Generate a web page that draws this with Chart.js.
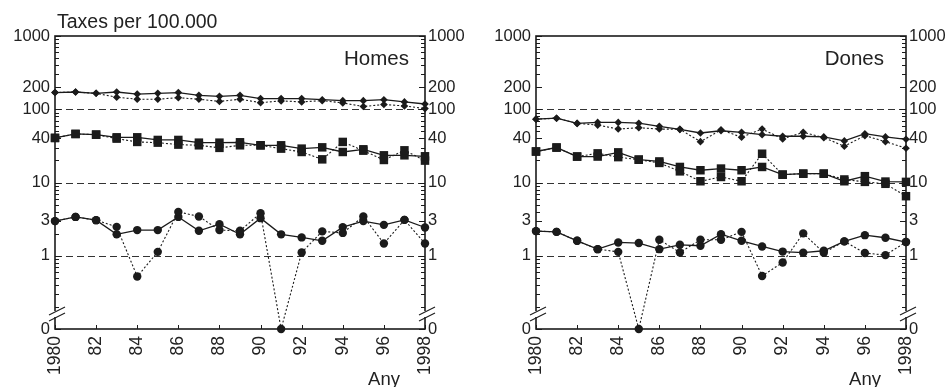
<!DOCTYPE html>
<html>
<head>
<meta charset="utf-8">
<script src="https://cdn.jsdelivr.net/npm/chart.js@4.4.1/dist/chart.umd.min.js"></script>
<style>
  body { margin: 0; background: #fff; }
  .wrap { display: flex; width: 950px; height: 387px; }
  .panel { position: relative; width: 475px; height: 387px; }
</style>
</head>
<body>
<div class="wrap">
  <div class="panel"><canvas id="homes"></canvas></div>
  <div class="panel"><canvas id="dones"></canvas></div>
</div>
<script>
"use strict";

// Data
const years = [1980, 1981, 1982, 1983, 1984, 1985, 1986, 1987, 1988, 1989,
               1990, 1991, 1992, 1993, 1994, 1995, 1996, 1997, 1998];
const xTicks = [1980, 1982, 1984, 1986, 1988, 1990, 1992, 1994, 1996, 1998];
const yTicks = [0, 1, 3, 10, 40, 100, 200, 1000];
const refLines = [1, 10, 100];

// Homes (solid = fit, dotted = observed)
const homesDiamondFit = [169, 172, 165, 172, 161, 165, 169, 155, 150, 155, 140, 140, 140, 135, 131, 131, 135, 126, 118];
const homesDiamondObs = [169, 172, 165, 146, 137, 137, 144, 137, 128, 137, 123, 130, 126, 131, 122, 109, 116, 111, 102];
const homesSquareFit = [40.6, 46, 45, 41.4, 41.4, 38.1, 38.1, 35, 35, 35.4, 32.2, 32.2, 29, 30.2, 26.1, 28.4, 23.5, 23.5, 22.8];
const homesSquareObs = [40.6, 46, 45, 39.7, 35.8, 35, 32.9, 32.2, 29.7, 32.2, 32.2, 29, 26.1, 20.7, 35.8, 27.2, 20.3, 27.5, 19.9];
const homesCircleFit = [2.97, 3.39, 3.06, 1.96, 2.24, 2.24, 3.39, 2.19, 2.7, 1.96, 3.26, 1.96, 1.78, 1.6, 2.46, 2.97, 2.64, 3.09, 2.43];
const homesCircleObs = [2.97, 3.39, 3.06, 2.48, 0.52, 1.13, 3.97, 3.44, 2.24, 2.19, 3.81, 0, 1.11, 2.15, 2.05, 3.44, 1.47, 3.09, 1.47];

// Dones
const donesDiamondFit = [73.3, 75.5, 64.1, 66.1, 66.1, 64.5, 58.4, 53.2, 47.4, 50.9, 48.4, 45, 42.8, 42.8, 41.9, 37, 46.4, 41.9, 38.9];
const donesDiamondObs = [73.3, 75.5, 64.1, 60.8, 53.7, 55.9, 53.7, 53.2, 36.1, 52.5, 41.5, 53.7, 39.4, 48.4, 40.9, 31.3, 43.6, 36.1, 29.4];
const donesSquareFit = [26.5, 30, 22.6, 22.6, 25.8, 20.5, 19.4, 16.3, 14.7, 15.5, 14.7, 16.3, 12.8, 13.2, 13.2, 10.4, 12.2, 10.3, 10.2];
const donesSquareObs = [26.5, 30, 22.6, 25, 22.2, 20.5, 18.5, 14.2, 10.4, 11.9, 10.4, 24.7, 12.8, 13.2, 13.2, 11, 10.2, 9.6, 6.5];
const donesCircleFit = [2.17, 2.12, 1.6, 1.23, 1.52, 1.49, 1.23, 1.41, 1.37, 1.97, 1.6, 1.34, 1.14, 1.1, 1.17, 1.57, 1.91, 1.76, 1.54];
const donesCircleObs = [2.17, 2.12, 1.6, 1.23, 1.13, 0, 1.65, 1.11, 1.65, 1.65, 2.12, 0.53, 0.81, 2.02, 1.1, 1.57, 1.09, 1.02, 1.54];

// Zero is drawn where 0.1 would sit on the log axis, below a break mark
const ZERO_AT = 0.1;
const AXIS_BREAK = 0.16;
const INK = "#1b1b1b";
const FONT = "'Liberation Sans', Arial, sans-serif";

function toLog(v) {
    return v === 0 ? ZERO_AT : v;
}

// log minor ticks 0.2 .. 900
const minorTicks = [];
[0.1, 1, 10, 100].forEach(function (d) {
    for (let m = 2; m <= 9; m++) minorTicks.push(+(m * d).toPrecision(3));
});

function series(values, style, dotted) {
    const radius = { circle: 4.2, rect: 6, rectRot: 3.8 }[style];
    return {
        data: values.map(function (v, i) {
            return { x: years[i], y: toLog(v) };
        }),
        borderColor: INK,
        backgroundColor: INK,
        borderWidth: dotted ? 1.1 : 1.3,
        borderDash: dotted ? [2, 2] : [],
        pointStyle: style,
        pointRadius: radius,
        pointBorderWidth: 0,
        tension: 0,
        clip: false,
    };
}

/**
 * Frame, inside ticks, dashed reference lines, axis break and texts
 */
const panelDecor = {
    id: "panelDecor",
    beforeDatasetsDraw(chart) {
        const ctx = chart.ctx;
        const a = chart.chartArea;
        const y = chart.scales.y;
        ctx.save();
        ctx.strokeStyle = "#333";
        ctx.lineWidth = 1;
        ctx.setLineDash([7, 4]);
        refLines.forEach(function (v) {
            const py = Math.round(y.getPixelForValue(v)) + 0.5;
            ctx.beginPath();
            ctx.moveTo(a.left, py);
            ctx.lineTo(a.right, py);
            ctx.stroke();
        });
        ctx.restore();
    },
    afterDatasetsDraw(chart, args, opts) {
        const ctx = chart.ctx;
        const a = chart.chartArea;
        const y = chart.scales.y;
        const x = chart.scales.x;
        ctx.save();
        ctx.strokeStyle = INK;

        // inside ticks
        ctx.lineWidth = 1;
        function tick(x0, y0, x1, y1) {
            ctx.beginPath();
            ctx.moveTo(x0, y0);
            ctx.lineTo(x1, y1);
            ctx.stroke();
        }
        minorTicks.forEach(function (v) {
            const py = Math.round(y.getPixelForValue(v)) + 0.5;
            tick(a.left, py, a.left + 4, py);
            tick(a.right, py, a.right - 4, py);
        });
        yTicks.forEach(function (v) {
            const py = Math.round(y.getPixelForValue(toLog(v))) + 0.5;
            tick(a.left, py, a.left + 6, py);
            tick(a.right, py, a.right - 6, py);
        });
        xTicks.forEach(function (v) {
            const px = Math.round(x.getPixelForValue(v)) + 0.5;
            tick(px, a.bottom, px, a.bottom - 4);
        });

        // frame
        ctx.lineWidth = 1.6;
        ctx.strokeRect(a.left, a.top, a.right - a.left, a.bottom - a.top);

        // axis break marks
        const by = y.getPixelForValue(AXIS_BREAK);
        [a.left, a.right].forEach(function (ax) {
            ctx.fillStyle = "#fff";
            ctx.fillRect(ax - 2, by - 3, 4, 6);
            ctx.lineWidth = 1.1;
            tick(ax - 6, by + 1, ax + 10, by - 7);
            tick(ax - 6, by + 7, ax + 10, by - 1);
        });

        // texts
        ctx.fillStyle = "#222";
        ctx.textBaseline = "alphabetic";
        if (opts.title) {
            ctx.font = "19.5px " + FONT;
            ctx.textAlign = "left";
            ctx.fillText(opts.title, a.left + 2, 28);
        }
        ctx.font = "20.5px " + FONT;
        ctx.textAlign = "right";
        ctx.fillText(opts.label, a.right - opts.labelInset, a.top + 29);
        ctx.font = "18.5px " + FONT;
        ctx.fillText("Any", a.right - 25, 385);
        ctx.restore();
    },
};

function yAxis(position, width) {
    return {
        type: "logarithmic",
        position: position,
        min: ZERO_AT,
        max: 1000,
        grid: { display: false, drawTicks: false },
        border: { display: false },
        afterBuildTicks: function (scale) {
            scale.ticks = yTicks.map(function (v) {
                return { value: toLog(v) };
            });
        },
        afterFit: function (scale) {
            scale.width = width;
        },
        ticks: {
            autoSkip: false,
            padding: position === "left" ? 5 : 3,
            color: "#222",
            font: { family: FONT, size: 16.5 },
            callback: function (v) {
                return v === ZERO_AT ? "0" : String(v);
            },
        },
    };
}

function makePanel(id, cfg) {
    const ctx = document.getElementById(id).getContext("2d");
    return new Chart(ctx, {
        type: "line",
        data: {
            datasets: [
                series(cfg.diamondObs, "rectRot", true),
                series(cfg.diamondFit, "rectRot", false),
                series(cfg.squareObs, "rect", true),
                series(cfg.squareFit, "rect", false),
                series(cfg.circleObs, "circle", true),
                series(cfg.circleFit, "circle", false),
            ],
        },
        options: {
            animation: false,
            responsive: true,
            maintainAspectRatio: false,
            events: [],
            layout: { padding: { top: 36, left: 0, right: 0, bottom: 0 } },
            plugins: {
                legend: { display: false },
                tooltip: { enabled: false },
                panelDecor: {
                    title: cfg.title,
                    label: cfg.label,
                    labelInset: cfg.labelInset,
                },
            },
            scales: {
                x: {
                    type: "linear",
                    min: years[0],
                    max: years[years.length - 1],
                    grid: { display: false, drawTicks: false },
                    border: { display: false },
                    afterBuildTicks: function (scale) {
                        scale.ticks = xTicks.map(function (v) {
                            return { value: v };
                        });
                    },
                    afterFit: function (scale) {
                        scale.height = 58;
                    },
                    ticks: {
                        autoSkip: false,
                        minRotation: 90,
                        maxRotation: 90,
                        padding: 7,
                        color: "#222",
                        font: { family: FONT, size: 17.5 },
                        callback: function (v) {
                            const first = years[0];
                            const last = years[years.length - 1];
                            return v === first || v === last
                                ? String(v)
                                : String(v).slice(2);
                        },
                    },
                },
                y: yAxis("left", cfg.leftWidth),
                y2: yAxis("right", cfg.rightWidth),
            },
        },
        plugins: [panelDecor],
    });
}

makePanel("homes", {
    title: "Taxes per 100.000",
    label: "Homes",
    labelInset: 16,
    leftWidth: 55,
    rightWidth: 50,
    diamondFit: homesDiamondFit,
    diamondObs: homesDiamondObs,
    squareFit: homesSquareFit,
    squareObs: homesSquareObs,
    circleFit: homesCircleFit,
    circleObs: homesCircleObs,
});

makePanel("dones", {
    title: null,
    label: "Dones",
    labelInset: 22,
    leftWidth: 61,
    rightWidth: 44,
    diamondFit: donesDiamondFit,
    diamondObs: donesDiamondObs,
    squareFit: donesSquareFit,
    squareObs: donesSquareObs,
    circleFit: donesCircleFit,
    circleObs: donesCircleObs,
});
</script>
</body>
</html>
